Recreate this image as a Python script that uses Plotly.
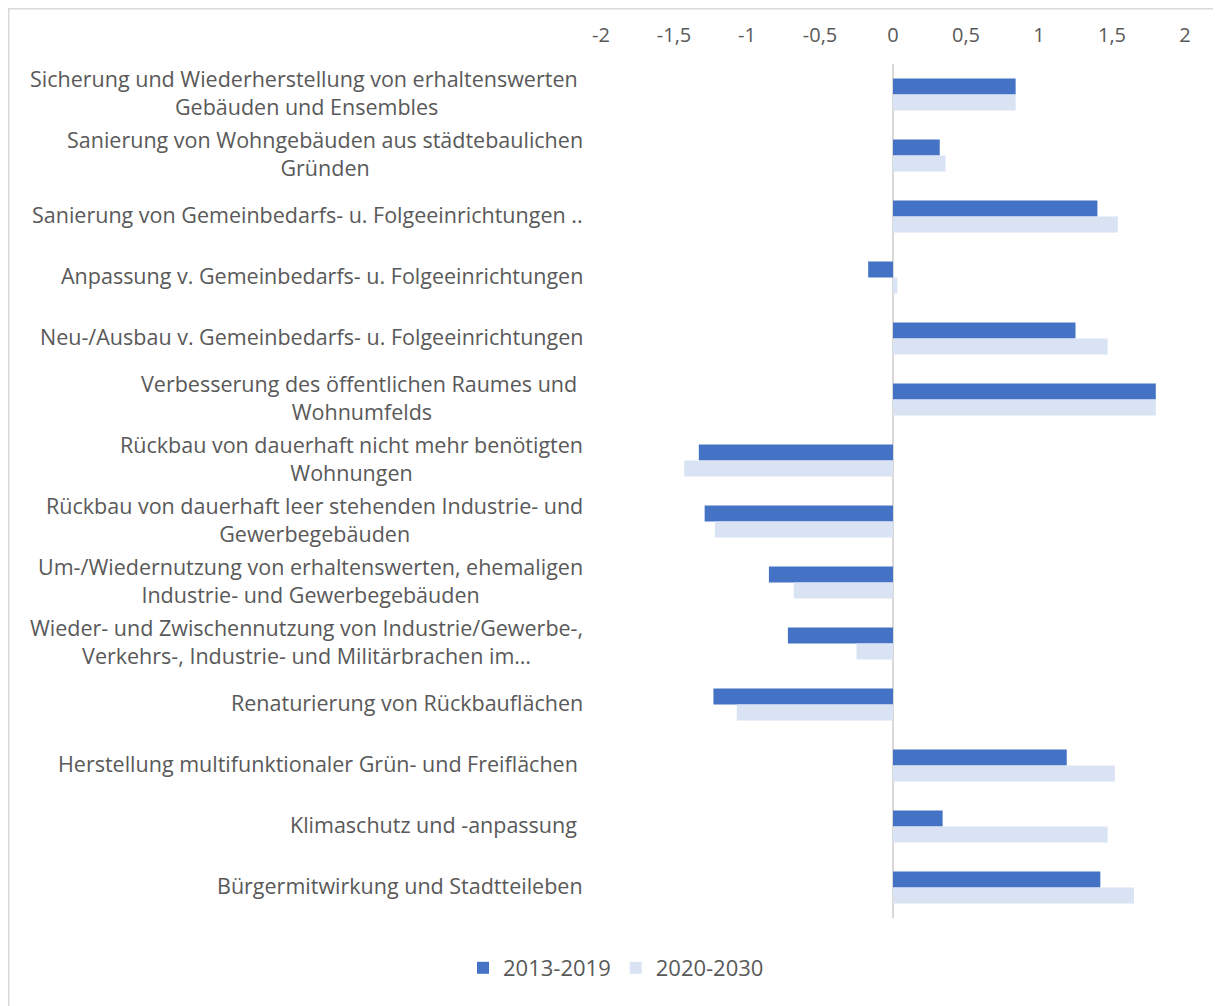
import plotly.graph_objects as go

categories = [
    "Sicherung und Wiederherstellung von erhaltenswerten\u00a0<br>Gebäuden und Ensembles",
    "Sanierung von Wohngebäuden aus städtebaulichen<br>Gründen",
    "Sanierung von Gemeinbedarfs- u. Folgeeinrichtungen ..",
    "Anpassung v. Gemeinbedarfs- u. Folgeeinrichtungen",
    "Neu-/Ausbau v. Gemeinbedarfs- u. Folgeeinrichtungen",
    "Verbesserung des öffentlichen Raumes und\u00a0<br>Wohnumfelds",
    "Rückbau von dauerhaft nicht mehr benötigten<br>Wohnungen",
    "Rückbau von dauerhaft leer stehenden Industrie- und<br>Gewerbegebäuden",
    "Um-/Wiedernutzung von erhaltenswerten, ehemaligen<br>Industrie- und Gewerbegebäuden",
    "Wieder- und Zwischennutzung von Industrie/Gewerbe-,<br>Verkehrs-, Industrie- und Militärbrachen im…",
    "Renaturierung von Rückbauflächen",
    "Herstellung multifunktionaler Grün- und Freiflächen\u00a0",
    "Klimaschutz und -anpassung\u00a0",
    "Bürgermitwirkung und Stadtteileben",
]
series_2013_2019 = [0.84, 0.32, 1.40, -0.17, 1.25, 1.80, -1.33, -1.29, -0.85, -0.72, -1.23, 1.19, 0.34, 1.42]
series_2020_2030 = [0.84, 0.36, 1.54, 0.03, 1.47, 1.80, -1.43, -1.22, -0.68, -0.25, -1.07, 1.52, 1.47, 1.65]
tick_vals = [-2, -1.5, -1, -0.5, 0, 0.5, 1, 1.5, 2]
tick_text = ["-2", "-1,5", "-1", "-0,5", "0", "0,5", "1", "1,5", "2"]

FONT = "Open Sans"
GREY = "#595959"
W, H = 1213, 998          # page has an 8px body margin
ML, MR, MT, MB = 593, 36, 56, 88
pw, ph = W - ML - MR, H - MT - MB

fig = go.Figure()
fig.add_trace(go.Bar(y=categories, x=series_2013_2019, orientation="h",
                     name="2013-2019", marker=dict(color="#4472C4", line=dict(width=0))))
fig.add_trace(go.Bar(y=categories, x=series_2020_2030, orientation="h",
                     name="2020-2030", marker=dict(color="#DAE3F3", line=dict(width=0))))

for c in categories:
    fig.add_annotation(x=0, xref="paper", y=c, yref="y", text=c, showarrow=False,
                       xanchor="right", yanchor="middle", align="center",
                       xshift=-16, yshift=2,
                       font=dict(family=FONT, size=21.5, color=GREY))

# outer chart border (left and top edges visible)
fig.add_shape(type="rect", xref="paper", yref="paper",
              x0=(0.5 - ML) / pw, x1=(W + 10 - ML) / pw,
              y0=(H - (H + 10) - MB) / ph, y1=(H - 0.5 - MB) / ph,
              line=dict(color="#d9d9d9", width=2), fillcolor="rgba(0,0,0,0)", layer="below")

fig.update_layout(
    width=W, height=H,
    margin=dict(l=ML, r=MR, t=MT, b=MB),
    paper_bgcolor="white", plot_bgcolor="white",
    barmode="group", bargap=0.475, bargroupgap=0,
    font=dict(family=FONT, color=GREY),
    xaxis=dict(range=[-2, 2], side="top", tickvals=tick_vals, ticktext=tick_text,
               tickfont=dict(family=FONT, size=20, color=GREY), ticklabelstandoff=17,
               showgrid=False, zeroline=True, zerolinecolor="#d9d9d9", zerolinewidth=2,
               showline=False, ticks="", fixedrange=True),
    yaxis=dict(autorange="reversed", showticklabels=False, showgrid=False,
               zeroline=False, showline=False, ticks=""),
    legend=dict(orientation="h", x=(608 - ML) / pw, xanchor="center",
                y=(H - 960 - MB) / ph, yanchor="middle",
                font=dict(family=FONT, size=22, color=GREY), itemwidth=30,
                traceorder="normal"),
    showlegend=True,
)

fig.write_html("out.html")
